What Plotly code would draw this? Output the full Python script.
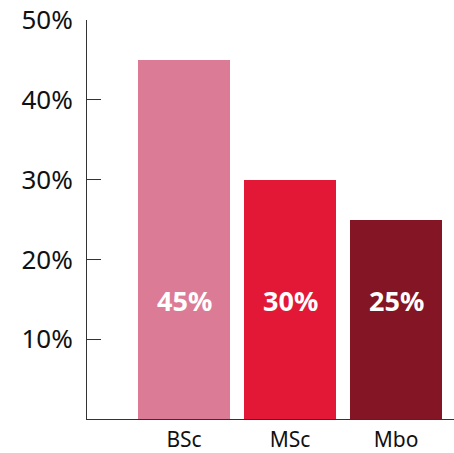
import plotly.graph_objects as go

# Share of students by programme level
categories = ["BSc", "MSc", "Mbo"]
shares = [45, 30, 25]
bar_colors = ["#DC7B96", "#E31837", "#841524"]
y_ticks = [0, 10, 20, 30, 40, 50]
y_tick_labels = ["", "10%", "20%", "30%", "40%", "50%"]

font_family = "Noto Sans, Open Sans, DejaVu Sans, sans-serif"

fig = go.Figure(
    go.Bar(
        x=list(range(len(categories))),
        y=shares,
        marker=dict(color=bar_colors, line=dict(width=0)),
        width=0.868,
        hoverinfo="skip",
    )
)

# value labels sit at a common height inside each bar
for i, v in enumerate(shares):
    fig.add_annotation(
        x=i, y=14.8, text=f"<b>{v}%</b>", showarrow=False,
        font=dict(family=font_family, size=27, color="white"),
        xanchor="center", yanchor="middle",
    )

fig.update_layout(
    width=454, height=453,
    margin=dict(l=87, r=0, t=20, b=29),
    paper_bgcolor="white", plot_bgcolor="white",
    showlegend=False,
    font=dict(family=font_family, color="#111111"),
    bargap=0,
)

fig.update_xaxes(
    range=[-0.915, 2.547],
    tickmode="array", tickvals=list(range(len(categories))), ticktext=categories,
    showgrid=False, zeroline=False,
    showline=True, linecolor="#333333", linewidth=1,
    ticks="", tickfont=dict(size=21, color="#111111"),
    ticklabelstandoff=2,
    fixedrange=True,
)

fig.update_yaxes(
    range=[0, 50],
    tickmode="array", tickvals=y_ticks, ticktext=y_tick_labels,
    showgrid=False, zeroline=False,
    showline=True, linecolor="#333333", linewidth=1,
    ticks="inside", ticklen=14, tickcolor="#333333", tickwidth=1,
    tickfont=dict(size=26, color="#111111"),
    ticklabelstandoff=8,
    fixedrange=True,
)

fig.write_html("out.html", config={"displayModeBar": False})
